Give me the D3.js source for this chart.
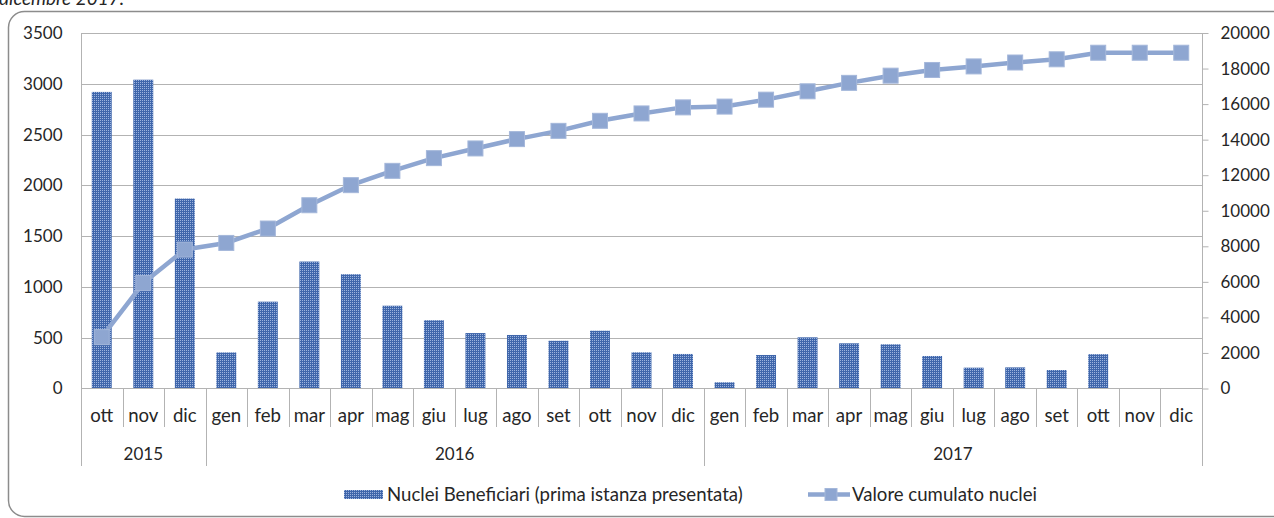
<!DOCTYPE html>
<html>
<head>
<meta charset="utf-8">
<script src="https://cdn.jsdelivr.net/npm/d3@7/dist/d3.min.js"></script>
<style>
  html, body { margin: 0; padding: 0; background: #fff; overflow: hidden; }
  svg { display: block; }
  text { font-family: Lato, "Open Sans", sans-serif; fill: #262626; }
</style>
</head>
<body>
<svg id="chart" width="1274" height="518"></svg>
<script>
// ---- data ----
const months = ["ott","nov","dic",
  "gen","feb","mar","apr","mag","giu","lug","ago","set","ott","nov","dic",
  "gen","feb","mar","apr","mag","giu","lug","ago","set","ott","nov","dic"];
const yearLabels = ["2015","2016","2017"];
const yearCounts = [3, 12, 12];
const nucleiBeneficiari = [2920, 3040, 1870,
  355, 855, 1250, 1125, 815, 672, 546, 527, 470, 569, 356, 340,
  61, 330, 504, 445, 435, 320, 205, 208, 182, 338, 0, 0];
const valoreCumulato = [2890, 5930, 7815,
  8190, 9000, 10310, 11440, 12245, 12960, 13505, 14030, 14495, 15060, 15475, 15815,
  15860, 16250, 16720, 17195, 17600, 17920, 18120, 18340, 18520, 18890, 18890, 18890];
const leftTicks = [0, 500, 1000, 1500, 2000, 2500, 3000, 3500];
const rightTicks = [0, 2000, 4000, 6000, 8000, 10000, 12000, 14000, 16000, 18000, 20000];
const seriesNames = ["Nuclei Beneficiari (prima istanza presentata)", "Valore cumulato nuclei"];

// ---- layout ----
const L = 81, R = 1202, T = 33, B = 388.5;
const svg = d3.select("#chart");
const FS = 17;      // digits
const FSW = 18.6;   // words

const defs = svg.append("defs");
const pat = defs.append("pattern").attr("id", "dots")
  .attr("width", 2).attr("height", 2).attr("patternUnits", "userSpaceOnUse");
pat.append("rect").attr("width", 2).attr("height", 2).attr("fill", "#3f66ab");
pat.append("rect").attr("x", 0).attr("y", 0).attr("width", 1).attr("height", 1).attr("fill", "#9db4de");

// outer frame
svg.append("rect").attr("x", 8.5).attr("y", 11.5).attr("width", 1300).attr("height", 505)
  .attr("rx", 16).attr("fill", "none").attr("stroke", "#8c8c8c").attr("stroke-width", 1.5);

// title fragment (cut off, as in the reference)
svg.append("text").attr("x", -1).attr("y", 5).attr("font-style", "italic")
  .attr("font-size", 19).text("dicembre 2017.");

const idx = d3.range(months.length);
const x = d3.scaleBand().domain(idx).range([L, R]).padding(0);
const bw = x.bandwidth();
const yL = d3.scaleLinear().domain([0, 3500]).range([B, T]);
const yR = d3.scaleLinear().domain([0, 20000]).range([B, T]);

const grid = "#b3b3b3";

// gridlines
svg.append("g").selectAll("line").data(leftTicks.filter(d => d > 0)).join("line")
  .attr("x1", L).attr("x2", R).attr("y1", d => Math.round(yL(d)) + 0.5).attr("y2", d => Math.round(yL(d)) + 0.5)
  .attr("stroke", grid).attr("stroke-width", 1);

// bars
const barW = bw * 0.48;
svg.append("g").selectAll("rect").data(nucleiBeneficiari).join("rect")
  .attr("x", (d, i) => x(i) + (bw - barW) / 2)
  .attr("width", barW)
  .attr("y", d => yL(d))
  .attr("height", d => B - yL(d))
  .attr("fill", "url(#dots)");

// category axis line and ticks
svg.append("line").attr("x1", L).attr("x2", R).attr("y1", B).attr("y2", B)
  .attr("stroke", grid).attr("stroke-width", 1);
const yearBounds = d3.cumsum(yearCounts);
const bounds = d3.range(months.length + 1);
const bx = k => (k < months.length ? x(k) : x(months.length - 1) + bw);
svg.append("g").selectAll("line").data(bounds).join("line")
  .attr("x1", k => Math.round(bx(k)) + 0.5).attr("x2", k => Math.round(bx(k)) + 0.5)
  .attr("y1", B)
  .attr("y2", k => (k === 0 || yearBounds.includes(k)) ? 466 : 427)
  .attr("stroke", grid).attr("stroke-width", 1);

// month labels
svg.append("g").selectAll("text").data(months).join("text")
  .attr("x", (d, i) => x(i) + bw / 2).attr("y", 421.5)
  .attr("text-anchor", "middle").attr("font-size", FSW).text(d => d);

// year labels
const yearStart = [0, ...yearBounds.slice(0, -1)];
svg.append("g").selectAll("text").data(yearLabels).join("text")
  .attr("x", (d, j) => (bx(yearStart[j]) + bx(yearBounds[j])) / 2).attr("y", 460)
  .attr("text-anchor", "middle").attr("font-size", FS).text(d => d);

// left axis
const gl = svg.append("g").attr("transform", `translate(${L + 0.5},0)`)
  .call(d3.axisLeft(yL).tickValues(leftTicks).tickSize(0).tickPadding(19).tickFormat(d3.format("d")));
gl.select(".domain").remove();
gl.selectAll("text").attr("font-size", FS).attr("font-family", "Lato").attr("fill", "#262626");
svg.append("line").attr("x1", L + 0.5).attr("x2", L + 0.5).attr("y1", T).attr("y2", 466)
  .attr("stroke", grid);

// right axis
const gr = svg.append("g").attr("transform", `translate(${R + 0.5},0)`)
  .call(d3.axisRight(yR).tickValues(rightTicks).tickSize(6).tickPadding(12).tickFormat(d3.format("d")));
gr.select(".domain").remove();
gr.selectAll("line").attr("stroke", grid);
gr.selectAll("text").attr("font-size", FS).attr("font-family", "Lato").attr("fill", "#262626");
svg.append("line").attr("x1", R + 0.5).attr("x2", R + 0.5).attr("y1", T).attr("y2", 466)
  .attr("stroke", grid);

// cumulative line
const lineColor = "#8ea6d1";
const line = d3.line().x((d, i) => x(i) + bw / 2).y(d => yR(d));
svg.append("path").datum(valoreCumulato).attr("d", line)
  .attr("fill", "none").attr("stroke", lineColor).attr("stroke-width", 4.5)
  .attr("stroke-linejoin", "round");
const ms = 15;
svg.append("g").selectAll("rect").data(valoreCumulato).join("rect")
  .attr("x", (d, i) => x(i) + bw / 2 - ms / 2).attr("y", d => yR(d) - ms / 2)
  .attr("width", ms).attr("height", ms)
  .attr("fill", lineColor).attr("stroke", "#a4b7da").attr("stroke-width", 1);

// legend
const lg = svg.append("g");
lg.append("rect").attr("x", 344).attr("y", 490).attr("width", 39).attr("height", 9).attr("fill", "url(#dots)");
lg.append("text").attr("x", 387).attr("y", 500.5).attr("font-size", FSW).text(seriesNames[0]);
lg.append("line").attr("x1", 808).attr("x2", 850).attr("y1", 494.5).attr("y2", 494.5)
  .attr("stroke", lineColor).attr("stroke-width", 4.5);
lg.append("rect").attr("x", 825).attr("y", 488.5).attr("width", 12).attr("height", 12)
  .attr("fill", lineColor).attr("stroke", "#a4b7da");
lg.append("text").attr("x", 852).attr("y", 500.5).attr("font-size", FSW).text(seriesNames[1]);
</script>
</body>
</html>
